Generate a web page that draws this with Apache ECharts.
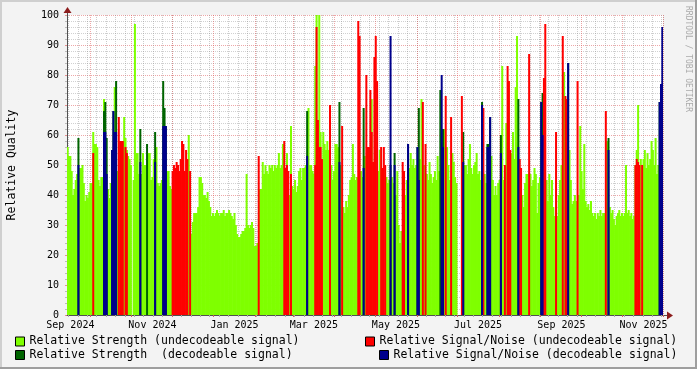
<!DOCTYPE html>
<html><head><meta charset="utf-8">
<script src="https://cdn.jsdelivr.net/npm/echarts@6/dist/echarts.min.js"></script>
<style>html,body{margin:0;padding:0;background:#f3f3f3}#c{width:697px;height:369px}</style>
</head><body><div id="c"></div>
<script>
// ---------- data ----------
const startDate = '2024-09-14';
const dayCount = 443;
const labelDays = ['2024-09-16','2024-11-16','2025-01-16','2025-03-16','2025-05-16','2025-07-16','2025-09-16','2025-11-16'];
const labelTexts = ['Sep 2024','Nov 2024','Jan 2025','Mar 2025','May 2025','Jul 2025','Sep 2025','Nov 2025'];
const yTickValues = [0,10,20,30,40,50,60,70,80,90,100];

const seriesNames = [
  'Relative Strength (undecodeable signal)',
  'Relative Strength  (decodeable signal)',
  'Relative Signal/Noise (undecodeable signal)',
  'Relative Signal/Noise (decodeable signal)'
];

// Relative Strength (undecodeable), one value per day from startDate
const strengthUndec = [
56,53,53,48,40,42,45,47,null,49, 49,50,44,38,40,39,41,44,44,61,
57,57,56,45,43,46,46,72,null,null, 42,39,44,null,null,76,null,48,null,null,
null,null,66,59,55,53,52,50,null,45, 97,54,54,47,null,47,54,50,50,null,
54,54,45,46,52,null,56,44,43,44, 45,null,null,null,48,48,43,42,null,null,
null,null,null,null,null,null,null,null,null,null, 60,null,27,31,34,34,34,36,46,46,
44,40,40,39,41,38,36,33,34,33, 34,35,34,33,34,34,35,33,34,34,
35,34,33,32,34,30,27,26,26,27, 28,28,29,47,30,29,30,31,29,23,
23,24,null,42,42,51,47,50,48,47, 50,49,50,48,50,49,50,54,49,50,
57,null,null,54,null,40,63,43,42,45, 41,43,48,49,45,49,49,50,null,69,
50,50,48,47,83,100,60,100,61,null, 61,57,55,58,55,null,50,45,48,57,
57,56,null,50,null,36,34,38,36,40, 45,46,57,47,45,46,null,null,48,46,
null,53,null,null,null,null,72,null,null,null, null,48,55,null,null,null,null,46,44,45,
null,46,44,null,40,48,30,24,28,null, null,40,45,null,49,54,50,52,49,50,
null,null,52,72,null,50,null,47,45,51, 47,44,46,48,45,53,48,null,null,null,
62,null,56,50,45,null,54,51,46,44, null,null,null,null,null,50,50,47,52,57,
49,47,50,51,54,47,48,45,null,null, 47,44,null,null,null,53,45,40,43,40,
44,45,null,83,45,null,64,null,null,null, 54,61,52,76,93,null,null,null,40,36,
44,47,47,null,47,43,45,49,47,34, 44,46,null,null,null,null,45,38,47,40,
45,36,33,null,33,40,45,50,null,81, null,null,null,55,45,37,38,40,38,null,
40,63,48,42,57,38,36,37,35,38, 34,33,34,32,34,33,35,33,34,34,
null,58,null,36,34,35,32,30,33,34, 35,33,34,33,34,50,34,35,33,34,
32,33,50,55,70,null,52,null,52,55, 49,54,50,52,58,55,50,59,47,50,
null,null,null
];

// Relative Strength (decodeable): [date, value]
const strengthDec = [
['2024-09-22',59],['2024-10-11',68],['2024-10-12',71],['2024-10-13',59],['2024-10-17',55],['2024-10-18',68],
['2024-10-20',78],['2024-11-07',62],['2024-11-12',57],['2024-11-18',61],['2024-11-24',78],['2024-11-25',69],
['2024-11-26',63],['2025-03-11',68],['2025-04-04',71],['2025-04-22',69],['2025-05-12',50],['2025-05-15',54],
['2025-05-25',57],['2025-06-01',56],['2025-06-02',69],['2025-06-18',75],['2025-06-20',62],['2025-07-05',61],
['2025-07-19',71],['2025-07-23',57],['2025-07-24',57],['2025-07-25',66],['2025-08-02',60],['2025-08-15',72],
['2025-09-01',71],['2025-09-02',74],['2025-09-21',84],['2025-10-21',59],['2025-11-28',71],['2025-11-29',71],
['2025-11-30',74]
];

// Relative Signal/Noise (undecodeable): [date, value]
const snUndec = [
['2024-10-03',54],['2024-10-22',66],['2024-10-23',58],['2024-10-24',58],['2024-10-25',58],['2024-10-27',56],
['2024-10-28',54],['2024-12-01',48],['2024-12-02',50],['2024-12-03',49],['2024-12-04',51],['2024-12-05',50],
['2024-12-06',48],['2024-12-07',52],['2024-12-08',58],['2024-12-09',57],['2024-12-10',48],['2024-12-11',55],
['2024-12-12',52],['2024-12-14',48],['2025-02-03',53],['2025-02-22',58],['2025-02-23',49],['2025-02-24',50],
['2025-02-25',48],['2025-02-27',47],['2025-03-17',50],['2025-03-18',96],['2025-03-19',65],['2025-03-20',56],
['2025-03-21',56],['2025-03-22',52],['2025-03-28',70],['2025-04-06',63],['2025-04-18',98],['2025-04-19',93],
['2025-04-24',80],['2025-04-25',56],['2025-04-26',56],['2025-04-27',75],['2025-04-28',61],['2025-04-29',51],
['2025-04-30',86],['2025-05-01',93],['2025-05-02',78],['2025-05-05',56],['2025-05-06',49],['2025-05-07',56],
['2025-05-08',50],['2025-05-21',51],['2025-05-22',48],['2025-06-05',71],['2025-06-07',57],['2025-06-22',73],
['2025-06-26',66],['2025-07-04',73],['2025-07-20',69],['2025-08-05',50],['2025-08-07',83],['2025-08-08',78],
['2025-08-09',55],['2025-08-16',52],['2025-08-17',49],['2025-08-23',87],['2025-09-03',79],['2025-09-04',97],
['2025-09-12',61],['2025-09-17',93],['2025-09-19',73],['2025-09-20',72],['2025-09-28',78],['2025-10-19',68],
['2025-11-10',50],['2025-11-11',52],['2025-11-12',51],['2025-11-13',50],['2025-11-15',50]
];

// Relative Signal/Noise (decodeable): [date, value]
const snDec = [
['2024-09-22',50],['2024-10-11',61],['2024-10-12',61],['2024-10-13',47],['2024-10-17',55],['2024-10-18',68],
['2024-10-19',61],['2024-10-20',61],['2024-11-07',51],['2024-11-18',51],['2024-11-24',63],['2024-11-25',63],
['2024-11-26',63],['2025-03-11',53],['2025-04-04',51],['2025-04-22',49],['2025-05-12',93],['2025-05-15',50],
['2025-05-25',57],['2025-06-01',56],['2025-06-02',45],['2025-06-19',80],['2025-06-20',56],['2025-07-05',51],
['2025-07-19',70],['2025-07-23',56],['2025-07-24',56],['2025-07-25',66],['2025-08-02',54],['2025-08-15',56],
['2025-09-01',71],['2025-09-02',60],['2025-09-21',84],['2025-10-21',55],['2025-11-28',71],['2025-11-29',77],
['2025-11-30',96]
];

// ---------- build tables ----------
const dates = [];
const t0 = Date.parse(startDate + 'T00:00:00Z');
for (let i = 0; i < dayCount; i++) dates.push(new Date(t0 + i * 86400000).toISOString().slice(0, 10));
const dateIndex = {}; dates.forEach((d, i) => dateIndex[d] = i);
function fullSeries(pts) { const a = dates.map(() => null); pts.forEach(p => { a[dateIndex[p[0]]] = p[1]; }); return a; }
const labelMap = {}; labelDays.forEach((d, i) => labelMap[d] = labelTexts[i]);
const isWeek = v => new Date(v + 'T00:00:00Z').getUTCDay() === 0;
const isMonth = v => v.slice(8) === '01';

const F = 'DejaVu Sans Mono';
const colors = ['#7fff00', '#006400', '#ff0000', '#00008b'];
const seriesData = [strengthUndec, fullSeries(strengthDec), fullSeries(snUndec), fullSeries(snDec)];

const legendCommon = {
  itemWidth: 9, itemHeight: 9, itemGap: 0, padding: 0, icon: 'rect', selectedMode: false,
  textStyle: { fontFamily: F, fontSize: 11.5, color: '#000', lineHeight: 14 },
  itemStyle: { borderColor: '#000', borderWidth: 1 }
};

const chart = echarts.init(document.getElementById('c'));
chart.setOption({
  animation: false,
  backgroundColor: '#f3f3f3',
  grid: { left: 67, top: 15, width: 596, height: 300, show: true, backgroundColor: '#ffffff', borderWidth: 0 },
  xAxis: [{
    type: 'category', data: dates, boundaryGap: true,
    axisLine: { show: true, lineStyle: { color: '#505050', width: 1 } },
    axisTick: { show: true, interval: (i, v) => isWeek(v), length: 2, lineStyle: { color: '#aaaaaa' } },
    axisLabel: { interval: (i, v) => labelMap[v] !== undefined, formatter: v => labelMap[v] || '', fontFamily: F, fontSize: 10, color: '#000', margin: 5 },
    splitLine: { show: true, interval: (i, v) => isWeek(v), lineStyle: { color: 'rgba(140,140,140,0.45)', type: [1, 1] } }
  }, {
    type: 'category', data: dates, boundaryGap: true, position: 'bottom',
    axisLine: { show: false }, axisLabel: { show: false },
    axisTick: { show: true, interval: (i, v) => isMonth(v), length: 2, lineStyle: { color: '#d06060' } },
    splitLine: { show: true, interval: (i, v) => isMonth(v), lineStyle: { color: 'rgba(222,80,80,0.5)', type: [1, 1] } }
  }],
  yAxis: {
    type: 'value', min: 0, max: 100, interval: 10,
    axisLine: { show: true, lineStyle: { color: '#505050' } },
    axisTick: { show: true, length: 2, lineStyle: { color: 'rgba(222,80,80,0.6)' } },
    minorTick: { show: true, splitNumber: 5, length: 2, lineStyle: { color: '#bbbbbb' } },
    axisLabel: { fontFamily: F, fontSize: 10, color: '#000', margin: 8, customValues: yTickValues },
    splitLine: { show: true, lineStyle: { color: 'rgba(222,80,80,0.5)', type: [1, 1] } },
    minorSplitLine: { show: true, lineStyle: { color: 'rgba(140,140,140,0.4)', type: [1, 1] } }
  },
  legend: [
    Object.assign({ data: [seriesNames[0]], left: 15, top: 334.5 }, legendCommon),
    Object.assign({ data: [seriesNames[1]], left: 15, top: 348 }, legendCommon),
    Object.assign({ data: [seriesNames[2]], left: 365, top: 334.5 }, legendCommon),
    Object.assign({ data: [seriesNames[3]], left: 379, top: 348 }, legendCommon)
  ],
  series: seriesNames.map((n, k) => ({
    name: n, type: 'bar', data: seriesData[k], xAxisIndex: 0, yAxisIndex: 0,
    barWidth: 2, barGap: '-100%', color: colors[k], silent: true,
    itemStyle: { color: colors[k] }
  })),
  graphic: [
    { type: 'rect', shape: { x: 0, y: 0, width: 697, height: 2 }, style: { fill: '#cfcfcf' }, silent: true },
    { type: 'rect', shape: { x: 0, y: 0, width: 2, height: 369 }, style: { fill: '#cfcfcf' }, silent: true },
    { type: 'rect', shape: { x: 0, y: 367, width: 697, height: 2 }, style: { fill: '#9e9e9e' }, silent: true },
    { type: 'rect', shape: { x: 695, y: 0, width: 2, height: 369 }, style: { fill: '#9e9e9e' }, silent: true },
    { type: 'line', shape: { x1: 67.5, y1: 15, x2: 67.5, y2: 12 }, style: { stroke: '#505050', lineWidth: 1 }, silent: true },
    { type: 'polygon', shape: { points: [[63.5, 13], [71.5, 13], [67.5, 7]] }, style: { fill: '#8c1c1c' }, silent: true },
    { type: 'line', shape: { x1: 663, y1: 315.5, x2: 668, y2: 315.5 }, style: { stroke: '#505050', lineWidth: 1 }, silent: true },
    { type: 'polygon', shape: { points: [[667, 311.5], [667, 319.5], [673, 315.5]] }, style: { fill: '#8c1c1c' }, silent: true },
    { type: 'text', x: 12, y: 165, rotation: Math.PI / 2, style: { text: 'Relative Quality', font: '11.5px "DejaVu Sans Mono"', fill: '#000', textAlign: 'center', textVerticalAlign: 'middle' }, silent: true },
    { type: 'text', x: 688, y: 59, rotation: -Math.PI / 2, style: { text: 'RRDTOOL / TOBI OETIKER', font: '8px "DejaVu Sans Mono"', fill: '#aaaaaa', textAlign: 'center', textVerticalAlign: 'middle' }, silent: true }
  ]
});
</script></body></html>
